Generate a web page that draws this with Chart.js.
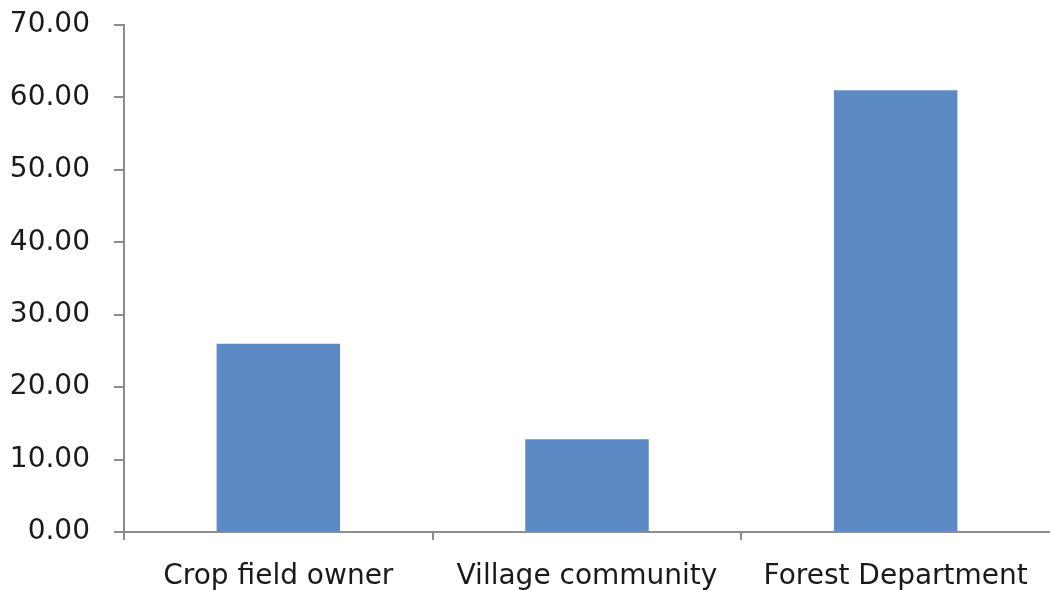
<!DOCTYPE html>
<html>
<head>
<meta charset="utf-8">
<script src="https://cdn.jsdelivr.net/npm/chart.js@4.4.1/dist/chart.umd.min.js"></script>
<style>
  html, body { margin: 0; padding: 0; background: #ffffff; }
  #wrap { width: 1050px; height: 590px; position: relative; }
</style>
</head>
<body>
<div id="wrap"><canvas id="c" width="1050" height="590"></canvas></div>
<script>
const categories = ["Crop field owner", "Village community", "Forest Department"];
const values = [26.0, 12.8, 61.0];
const yTicks = [0, 10, 20, 30, 40, 50, 60, 70];

const axisColor = "#8c8c8c";
const fontFamily = "'DejaVu Sans', Verdana, sans-serif";

new Chart(document.getElementById("c"), {
  type: "bar",
  data: {
    labels: categories,
    datasets: [{
      data: values,
      backgroundColor: "#5b8ac4",
      borderWidth: 0,
      barPercentage: 0.4,
      categoryPercentage: 1.0
    }]
  },
  options: {
    responsive: false,
    animation: false,
    layout: { padding: { top: 25, right: 0, left: 0, bottom: 0 } },
    plugins: { legend: { display: false }, tooltip: { enabled: false } },
    scales: {
      x: {
        offset: true,
        grid: {
          display: true, offset: true, drawOnChartArea: false, drawTicks: true, tickLength: 8, lineWidth: 2,
          color: (ctx) => (ctx.type === "tick" && ctx.index < categories.length ? axisColor : "rgba(0,0,0,0)")
        },
        border: { display: true, color: axisColor, width: 2 },
        ticks: { color: "#1a1a1a", font: { family: fontFamily, size: 28 }, padding: 20, maxRotation: 0, autoSkip: false },
        afterFit: (s) => { s.height = 58; s.paddingLeft = 0; s.paddingRight = 0; }
      },
      y: {
        min: 0,
        max: 70,
        afterBuildTicks: (s) => { s.ticks = yTicks.map(v => ({ value: v })); },
        grid: { display: true, drawOnChartArea: false, drawTicks: true, tickLength: 10, color: axisColor, lineWidth: 2 },
        border: { display: true, color: axisColor, width: 2 },
        ticks: {
          color: "#1a1a1a",
          font: { family: fontFamily, size: 28 },
          padding: 24,
          callback: (v) => Number(v).toFixed(2)
        },
        afterFit: (s) => { s.width = 124; s.paddingTop = 0; s.paddingBottom = 0; }
      }
    }
  }
});
</script>
</body>
</html>
